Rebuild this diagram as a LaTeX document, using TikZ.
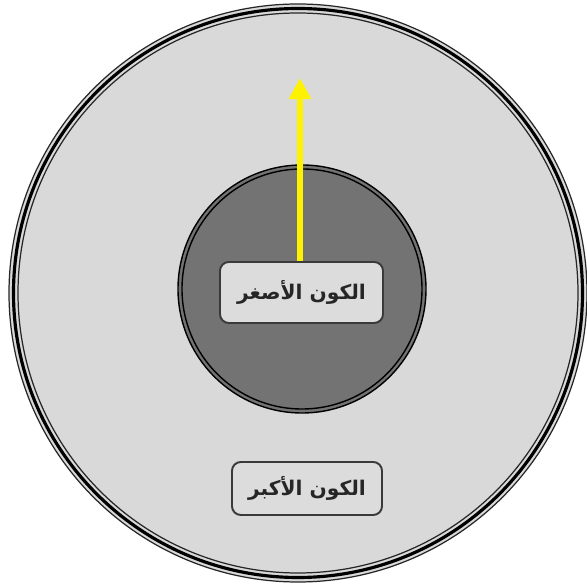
\documentclass[tikz,border=0pt]{standalone}
\usepackage{fontspec}
\usepackage{tikz}
\usetikzlibrary{arrows.meta}
\TeXXeTstate=1
\newfontfamily\arabicfont[Script=Arabic]{DejaVu Sans}
\definecolor{farspace}{HTML}{D9D9D9}
\definecolor{nearspace}{HTML}{737373}
\definecolor{labelbg}{HTML}{DCDCDC}
\definecolor{rim}{HTML}{3A3A3A}

\begin{document}
\begin{tikzpicture}[
  label box/.style={draw=rim,line width=1.1pt,fill=labelbg,rounded corners=5pt,
    minimum width=#1,font=\arabicfont\bfseries\fontsize{11.5}{14}\selectfont,
    text=black!85,inner sep=0pt},
  label box/.default=3cm]
  \useasboundingbox (0,0) rectangle (11.74,11.72);
  % the larger universe, with its triple rim
  \fill[farspace] (5.96,5.86) circle[radius=5.78];
  \draw[line width=0.7pt,black!85] (5.96,5.86) circle[radius=5.78];
  \draw[line width=1.8pt] (5.96,5.86) circle[radius=5.69];
  \draw[line width=0.7pt,black!85] (5.96,5.86) circle[radius=5.60];
  % the smaller universe
  \fill[nearspace] (6.04,5.94) circle[radius=2.48];
  \draw[line width=0.8pt] (6.04,5.94) circle[radius=2.48];
  \draw[line width=0.8pt] (6.04,5.94) circle[radius=2.40];
  \coordinate (tip) at (6.0,10.16);
  \node[label box=3.26cm,minimum height=1.22cm] (small) at (6.03,5.87) {\beginR الكون الأصغر\endR};
  \draw[-{Triangle[width=12pt,length=12pt]},line width=3.4pt,yellow] (small.north -| tip) -- (tip);
  \node[label box=3cm,minimum height=1.06cm] (big) at (6.14,1.95) {\beginR الكون الأكبر\endR};
\end{tikzpicture}
\end{document}
